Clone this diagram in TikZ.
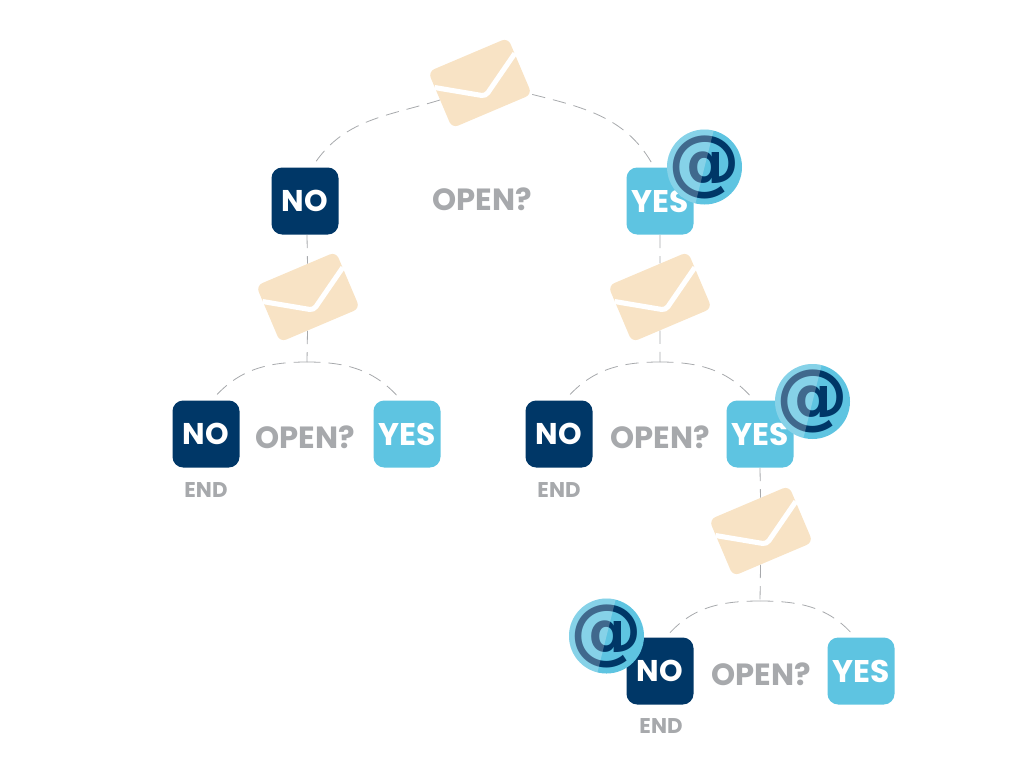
\documentclass[tikz,border=0pt]{standalone}
\usepackage{fontspec}
\setmainfont{Poppins}
\newfontfamily\atfont{DejaVu Sans}
\usetikzlibrary{calc}
\definecolor{navy}{HTML}{003767}
\definecolor{sky}{HTML}{5EC4E1}
\definecolor{sand}{HTML}{F8E3C5}
\definecolor{label}{HTML}{A7A9AC}
\newcommand{\mailnode}[2]{%
  \node[mail] (#1) at (#2) {};
  \draw[mailgap] ($(#1.north west)!.28!(#1.south west)$) -- ($(#1.north)!.73!(#1.south)$)
    -- ($(#1.north east)!.28!(#1.south east)$);
}
\begin{document}
\begin{tikzpicture}[
  x=0.75pt, y=-0.75pt,
  no/.style={rectangle, fill=navy, text=white, rounded corners=8pt, minimum size=50.25pt,
    inner sep=0pt, font=\bfseries\fontsize{22.5}{22.5}\selectfont},
  yes/.style={no, fill=sky, font=\bfseries\fontsize{23.5}{23.5}\selectfont},
  open/.style={text=label, inner sep=0pt, font=\bfseries\fontsize{23}{23}\selectfont},
  finish/.style={text=label, inner sep=0pt, font=\bfseries\fontsize{16}{16}\selectfont},
  mail/.style={rectangle, fill=sand, rounded corners=5pt, rotate=23, minimum width=65pt,
    minimum height=46pt, inner sep=0pt},
  mailgap/.style={white, line width=3.8pt, rounded corners=3pt},
  link/.style={draw=label, line width=0.6pt, dash pattern=on 10pt off 6pt},
  badge/.style={circle, fill=sky, minimum size=56.25pt, inner sep=0pt, path picture={
    \node[text=navy, inner sep=0pt, font=\atfont\bfseries\fontsize{54}{54}\selectfont]
      at (path picture bounding box.center) {@};
    \fill[white, opacity=0.25] ($(path picture bounding box.center)+(10,-40)$)
      -- ($(path picture bounding box.center)+(-10,40)$)
      -- ($(path picture bounding box.center)+(-45,40)$)
      -- ($(path picture bounding box.center)+(-45,-40)$) -- cycle;
  }},
]
\useasboundingbox (0,0) rectangle (1024,772);

\node[no] (no1) at (305,201) {NO};
\node[yes] (yes1) at (660,201) {YES};
\node[no] (no2) at (206,434) {NO};
\node[yes] (yes2) at (407,434) {YES};
\node[no] (no3) at (559,434) {NO};
\node[yes] (yes3) at (760,434) {YES};
\node[no] (no4) at (660,671) {NO};
\node[yes] (yes4) at (861,671) {YES};

\node[open] (open1) at (482,199) {OPEN?};
\node[open] (open2) at (305,437) {OPEN?};
\node[open] (open3) at (660,437) {OPEN?};
\node[open] (open4) at (761,674) {OPEN?};

\node[finish] (end2) at (206,490) {END};
\node[finish] (end3) at (559,490) {END};
\node[finish] (end4) at (661,726) {END};

\mailnode{mail1}{480,83}
\mailnode{mail2}{308,297}
\mailnode{mail3}{660,297}
\mailnode{mail4}{761,531}

\coordinate (fork2) at (307,362);
\coordinate (fork3) at (660,362);
\coordinate (fork4) at (760,601);

\draw[link] (mail1.west) to[out=197, in=58] (no1.78);
\draw[link] (mail1.south east) to[out=-14, in=118] (yes1.100);

\draw[link] (no1.south -| fork2) -- (mail2);
\draw[link] (mail2) -- (fork2);
\draw[link] (fork2) to[out=180, in=50] (no2.80);
\draw[link] (fork2) to[out=0, in=130] (yes2.100);

\draw[link] (yes1.south -| fork3) -- (mail3);
\draw[link] (mail3) -- (fork3);
\draw[link] (fork3) to[out=180, in=50] (no3.80);
\draw[link] (fork3) to[out=0, in=130] (yes3.100);

\draw[link] (yes3.south -| fork4) -- (mail4);
\draw[link] (mail4) -- (fork4);
\draw[link] (fork4) to[out=180, in=50] (no4.80);
\draw[link] (fork4) to[out=0, in=130] (yes4.100);

\node[badge] (at1) at (704.5,167) {};
\node[badge] (at2) at (812.5,401.5) {};
\node[badge] (at3) at (606.5,636) {};
\end{tikzpicture}
\end{document}
